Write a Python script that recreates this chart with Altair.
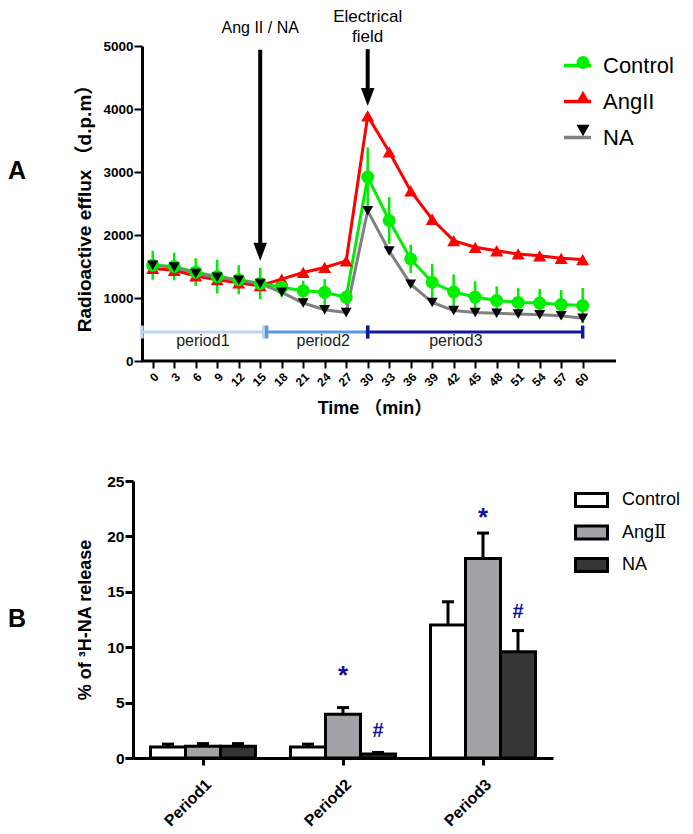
import altair as alt
import pandas as pd

FONT = "Liberation Sans, Arial, DejaVu Serif, Noto Sans CJK SC"

# ---------------- Panel A data ----------------
time_min = list(range(0, 61, 3))
control_dpm = [1520, 1500, 1410, 1340, 1290, 1230, 1170, 1115, 1090, 1010,
               2920, 2230, 1620, 1250, 1095, 1015, 960, 930, 920, 895, 880]
control_sem = [230, 220, 220, 270, 230, 250, 150, 160, 210, 120,
               470, 370, 225, 290, 280, 250, 225, 225, 225, 230, 280]
angii_dpm = [1470, 1440, 1350, 1290, 1240, 1195, 1300, 1405, 1485, 1590,
             3890, 3320, 2700, 2250, 1910, 1805, 1750, 1700, 1670, 1630, 1610]
na_dpm = [1520, 1490, 1390, 1330, 1280, 1230, 1090, 920, 815, 770,
          2385, 1745, 1220, 930, 800, 770, 757, 746, 735, 720, 680]

series_names = ["Control", "AngII", "NA"]
line_colors = ["#00ee00", "#ff0000", "#808080"]
marker_colors = ["#00ee00", "#ff0000", "#000000"]
marker_shapes = ["circle", "triangle-up", "triangle-down"]
marker_sizes = [169, 169, 121]
draw_order = ["AngII", "Control", "NA"]

period_names = ["period1", "period2", "period3"]
period_start = [-1.5, 15.9, 30]
period_end = [15.5, 30, 60]
period_level = [460, 460, 460]
period_label_t = [7, 23.8, 42.3]
period_label_v = [320, 320, 320]
period_colors = ["#bdd5f0", "#5a97dc", "#0b1a9e"]
period_tick_t = [-1.5, 15.5, 15.9, 30, 30, 60]
period_tick_name = ["period1", "period1", "period2", "period2", "period3", "period3"]

arrow_t = [15, 30]
arrow_from = [4940, 4950]
arrow_to = [1750, 4200]
arrow_tip = [1590, 4048]
label_small = ["Ang II / NA"]
label_small_t = [15]
label_small_v = [5290]
label_big = ["Electrical", "field"]
label_big_t = [30, 30]
label_big_v = [5460, 5140]

# ---------------- Panel B data ----------------
bar_periods = ["Period1", "Period2", "Period3"]
bar_groups = ["Control", "AngⅡ", "NA"]
ctrl_pct = [1.0, 1.0, 12.0]
ctrl_err = [0.25, 0.25, 2.1]
angii_pct = [1.05, 3.95, 18.0]
angii_err = [0.25, 0.6, 2.3]
na_pct = [1.05, 0.35, 9.6]
na_err = [0.25, 0.15, 1.9]
bar_fill = ["#ffffff", "#a3a3a7", "#353535"]
star_periods = ["Period2", "Period3"]
star_y = [7.9, 22.2]
hash_periods = ["Period2", "Period3"]
hash_y = [2.4, 13.2]
MARK_BLUE = "#1212a0"

# ---------------- build tables ----------------
rows = []
for order, (name, vals) in enumerate(zip(series_names, [control_dpm, angii_dpm, na_dpm])):
    for t, v in zip(time_min, vals):
        rows.append({"t": t, "v": v, "series": name, "series_pt": name, "order": order})
dfA = pd.DataFrame(rows)
err_df = pd.DataFrame({"t": time_min,
                       "v": [m - e for m, e in zip(control_dpm, control_sem)],
                       "v2": [m + e for m, e in zip(control_dpm, control_sem)]})
per_df = pd.DataFrame({"t": period_start, "t2": period_end, "v": period_level, "name": period_names})
per_tick_df = pd.DataFrame({"t": period_tick_t, "v": [357] * 6, "v2": [563] * 6, "name": period_tick_name})
per_lab_df = pd.DataFrame({"t": period_label_t, "v": period_label_v, "name": period_names})
arr_df = pd.DataFrame({"t": arrow_t, "v": arrow_from, "v2": arrow_to})
head_df = pd.DataFrame({"t": arrow_t, "v": arrow_tip})
lab_s_df = pd.DataFrame({"t": label_small_t, "v": label_small_v, "txt": label_small})
lab_b_df = pd.DataFrame({"t": label_big_t, "v": label_big_v, "txt": label_big})

x_a = alt.X("t:Q", scale=alt.Scale(domain=[-2.75, 64.65], nice=False, zero=False),
            axis=alt.Axis(values=time_min, domain=False, grid=False, labelAngle=-45,
                          labelFont=FONT, labelFontSize=12, labelFontWeight="bold",
                          labelColor="black", labelPadding=3, tickSize=7, tickWidth=2,
                          tickColor="black", title="Time （min）", titleFont=FONT,
                          titleFontSize=18, titleFontWeight="bold", titleColor="black",
                          titlePadding=11))
y_a = alt.Y("v:Q", scale=alt.Scale(domain=[0, 5000], nice=False),
            axis=alt.Axis(values=[0, 1000, 2000, 3000, 4000, 5000], format="d", offset=-9,
                          grid=False, domainWidth=3, domainColor="black", tickSize=8,
                          tickWidth=2, tickColor="black", labelFont=FONT, labelFontSize=13.5,
                          labelFontWeight="bold", labelColor="black", labelPadding=1,
                          title="Radioactive efflux （d.p.m）", titleFont=FONT,
                          titleFontSize=19, titleFontWeight="bold", titleColor="black",
                          titlePadding=8))
per_color = alt.Color("name:N", scale=alt.Scale(domain=period_names, range=period_colors), legend=None)

axis_line = alt.Chart(pd.DataFrame({"t": [-1.5], "t2": [64.65], "v": [0]})).mark_rule(
    strokeWidth=3, color="black").encode(x=x_a, x2="t2", y=y_a)
per_rule = alt.Chart(per_df).mark_rule(strokeWidth=3).encode(x=x_a, x2="t2", y=y_a, color=per_color)
per_tick = alt.Chart(per_tick_df).mark_rule(strokeWidth=3.5).encode(x=x_a, y=y_a, y2="v2", color=per_color)
per_text = alt.Chart(per_lab_df).mark_text(font=FONT, fontSize=16, color="#222222").encode(
    x=x_a, y=y_a, text="name:N")
arr_rule = alt.Chart(arr_df).mark_rule(strokeWidth=4, color="black").encode(x=x_a, y=y_a, y2="v2")
arr_head = alt.Chart(head_df).mark_point(shape="M-0.75,-2L0.75,-2L0,0Z", size=324, filled=True,
                                         color="black", opacity=1).encode(x=x_a, y=y_a)
txt_s = alt.Chart(lab_s_df).mark_text(font=FONT, fontSize=16, color="black").encode(
    x=x_a, y=y_a, text="txt:N")
txt_b = alt.Chart(lab_b_df).mark_text(font=FONT, fontSize=17, color="black").encode(
    x=x_a, y=y_a, text="txt:N")
err_rule = alt.Chart(err_df).mark_rule(strokeWidth=2.5, color=line_colors[0]).encode(
    x=x_a, y=y_a, y2="v2")

leg_line = alt.Legend(orient="none", legendX=429, legendY=4, title=None, symbolType="stroke",
                      symbolSize=729, symbolStrokeWidth=3.5, labelFont=FONT, labelFontSize=22,
                      labelColor="black", labelOffset=10, rowPadding=9, padding=0)
leg_pt = alt.Legend(orient="none", legendX=439, legendY=5.5, title=None, symbolSize=169,
                    symbolStrokeWidth=0, labelFont=FONT, labelFontSize=22, labelExpr="''",
                    labelOffset=21, rowPadding=12, padding=0)
sort_o = alt.EncodingSortField(field="order", op="min")
stroke_enc = alt.Stroke("series:N", sort=sort_o, scale=alt.Scale(range=line_colors), legend=leg_line)
fill_enc = alt.Fill("series_pt:N", sort=sort_o, scale=alt.Scale(range=marker_colors), legend=leg_pt)
shape_enc = alt.Shape("series_pt:N", sort=sort_o, scale=alt.Scale(range=marker_shapes), legend=leg_pt)

series_layers = []
for name in draw_order:
    base = alt.Chart(dfA).transform_filter(alt.datum.series == name)
    series_layers.append(base.mark_line(strokeWidth=3).encode(x=x_a, y=y_a, stroke=stroke_enc))
for name in draw_order:
    i = series_names.index(name)
    base = alt.Chart(dfA).transform_filter(alt.datum.series == name)
    series_layers.append(base.mark_point(filled=True, opacity=1, size=marker_sizes[i], strokeWidth=0).encode(
        x=x_a, y=y_a, fill=fill_enc, shape=shape_enc))

letter_a = alt.Chart(pd.DataFrame({"txt": ["A"]})).mark_text(
    font=FONT, fontSize=25, fontWeight="bold", align="left", baseline="middle", color="black").encode(
    x=alt.value(-125), y=alt.value(125), text="txt:N")

top = alt.layer(axis_line, per_rule, per_tick, per_text, arr_rule, arr_head, txt_s, txt_b,
                err_rule, *series_layers, letter_a).properties(width=483, height=315)

# ---------------- Panel B ----------------
brows = []
for g, vals, errs in zip(bar_groups, [ctrl_pct, angii_pct, na_pct], [ctrl_err, angii_err, na_err]):
    for p, v, e in zip(bar_periods, vals, errs):
        brows.append({"period": p, "group": g, "pct": v, "pct2": v + e})
dfB = pd.DataFrame(brows)
cap_df = pd.DataFrame({"period": dfB["period"], "group": dfB["group"], "pct": dfB["pct2"]})
star_df = pd.DataFrame({"period": star_periods, "group": ["AngⅡ"] * 2, "pct": star_y, "txt": ["*"] * 2})
hash_df = pd.DataFrame({"period": hash_periods, "group": ["NA"] * 2, "pct": hash_y, "txt": ["#"] * 2})

x_b = alt.X("period:N", sort=bar_periods,
            scale=alt.Scale(domain=bar_periods, paddingInner=0.25, paddingOuter=0.125),
            axis=alt.Axis(title=None, labelAngle=-45, labelFont=FONT, labelFontSize=16,
                          labelFontWeight="bold", labelColor="black", domainWidth=3,
                          domainColor="black", tickSize=7, tickWidth=3, tickColor="black",
                          labelPadding=11, grid=False))
xo_b = alt.XOffset("group:N", scale=alt.Scale(domain=bar_groups, paddingInner=0, paddingOuter=0))
y_b = alt.Y("pct:Q", scale=alt.Scale(domain=[0, 25], nice=False),
            axis=alt.Axis(values=[0, 5, 10, 15, 20, 25], grid=False, domainWidth=3,
                          domainColor="black", tickSize=8, tickWidth=3, tickColor="black",
                          labelFont=FONT, labelFontSize=15.5, labelFontWeight="bold",
                          labelColor="black", labelPadding=1, title="% of ³H-NA release",
                          titleFont=FONT, titleFontSize=18, titleFontWeight="bold",
                          titleColor="black", titlePadding=12))
leg_b = alt.Legend(orient="none", legendX=441, legendY=1.5, title=None,
                   symbolType="M-1,-0.4H1V0.4H-1Z", symbolSize=1024, symbolStrokeColor="black",
                   symbolStrokeWidth=3, symbolOpacity=1, labelFont=FONT, labelFontSize=18,
                   labelColor="black", labelOffset=13, rowPadding=2.5, padding=0)
bars = alt.Chart(dfB).mark_bar(stroke="black", strokeWidth=3, opacity=1).encode(
    x=x_b, xOffset=xo_b, y=y_b,
    fill=alt.Fill("group:N", scale=alt.Scale(domain=bar_groups, range=bar_fill), legend=leg_b))
err_b = alt.Chart(dfB).mark_rule(strokeWidth=3, color="black").encode(
    x=x_b, xOffset=xo_b, y=y_b, y2="pct2")
cap_b = alt.Chart(cap_df).mark_tick(orient="horizontal", size=12, thickness=3, color="black",
                                    opacity=1).encode(x=x_b, xOffset=xo_b, y=y_b)
stars = alt.Chart(star_df).mark_text(font=FONT, fontSize=26, fontWeight="bold", color=MARK_BLUE,
                                     dy=6).encode(x=x_b, xOffset=xo_b, y=y_b, text="txt:N")
hashes = alt.Chart(hash_df).mark_text(font=FONT, fontSize=20, fontWeight="bold",
                                      color=MARK_BLUE).encode(x=x_b, xOffset=xo_b, y=y_b, text="txt:N")
letter_b = alt.Chart(pd.DataFrame({"txt": ["B"]})).mark_text(
    font=FONT, fontSize=25, fontWeight="bold", align="left", baseline="middle", color="black").encode(
    x=alt.value(-125), y=alt.value(138), text="txt:N")

bottom = alt.layer(bars, err_b, cap_b, stars, hashes, letter_b).properties(width=420, height=277)

chart = alt.vconcat(top, bottom, spacing=56).properties(padding=0).resolve_scale(
    fill="independent", shape="independent", stroke="independent", color="independent",
    x="independent", y="independent").resolve_legend(
    fill="independent", shape="independent", stroke="independent", color="independent"
).configure_view(strokeWidth=0).configure_axis(grid=False)

chart.save("out.html", embed_options={"renderer": "svg", "actions": False})
